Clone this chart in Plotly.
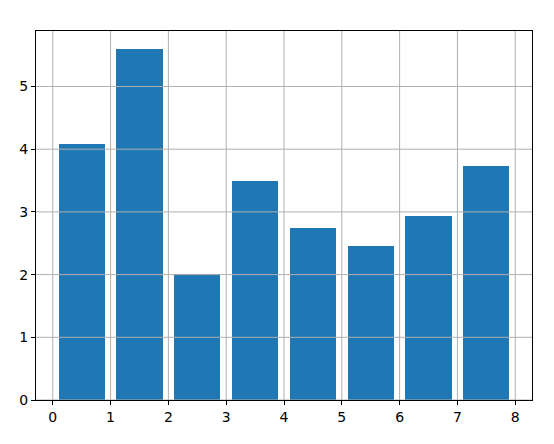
import plotly.graph_objects as go

x_pos = [0.5, 1.5, 2.5, 3.5, 4.5, 5.5, 6.5, 7.5]
values = [4.09, 5.605, 2.01, 3.50, 2.74, 2.45, 2.93, 3.73]
x_ticks = [0, 1, 2, 3, 4, 5, 6, 7, 8]
y_ticks = [0, 1, 2, 3, 4, 5]

x_range = [-0.29, 8.29]
y_range = [0, 5.885]

fig = go.Figure()
fig.add_trace(go.Bar(x=x_pos, y=values, width=0.8, marker=dict(color="#1f77b4", line=dict(width=0)),
                     showlegend=False, hoverinfo="skip"))

# grid lines drawn above the bars (matplotlib default draws them on top here)
gx, gy = [], []
for t in x_ticks:
    gx += [t, t, None]
    gy += [y_range[0], y_range[1], None]
for t in y_ticks:
    gx += [x_range[0], x_range[1], None]
    gy += [t, t, None]
fig.add_trace(go.Scatter(x=gx, y=gy, mode="lines", line=dict(color="#b0b0b0", width=1),
                         showlegend=False, hoverinfo="skip", cliponaxis=True))

axis_common = dict(showgrid=False, zeroline=False, showline=True, linecolor="black", linewidth=1,
                   mirror=True, ticks="outside", ticklen=4, tickwidth=1, tickcolor="black",
                   tickfont=dict(family="DejaVu Sans", size=14, color="black"))
fig.update_xaxes(range=x_range, tickvals=x_ticks, **axis_common)
fig.update_yaxes(range=y_range, tickvals=y_ticks, **axis_common)

# page body has an 8px default margin, compensate so the plot area lands at the same pixels
fig.update_layout(width=546, height=436, margin=dict(l=28, r=22, t=23, b=44),
                  paper_bgcolor="white", plot_bgcolor="white", bargap=0)
fig.write_html("out.html")
